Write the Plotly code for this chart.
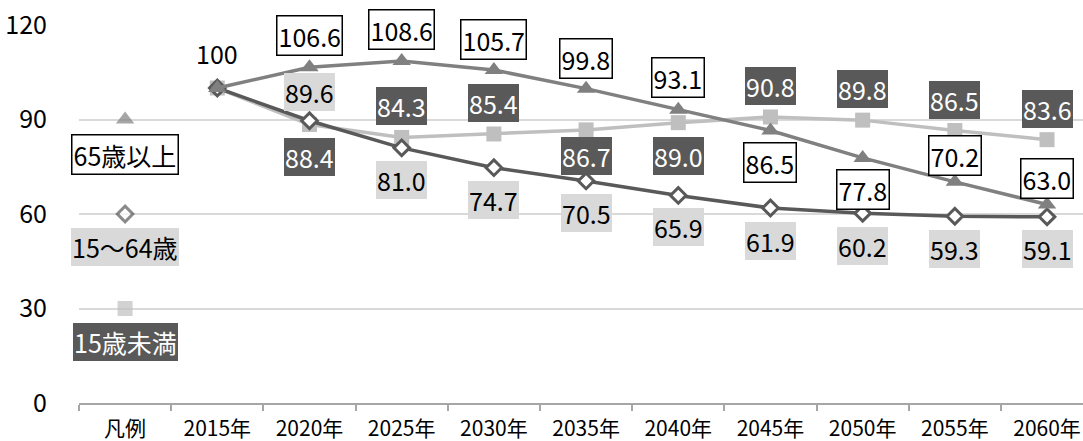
import plotly.graph_objects as go

# Categories on the x axis: the first slot holds the legend markers
categories = ["凡例", "2015年", "2020年", "2025年", "2030年", "2035年",
              "2040年", "2045年", "2050年", "2055年", "2060年"]
years = categories[1:]

# Population index (2015 = 100)
over_65 = [100, 106.6, 108.6, 105.7, 99.8, 93.1, 86.5, 77.8, 70.2, 63.0]
age_15_64 = [100, 89.6, 81.0, 74.7, 70.5, 65.9, 61.9, 60.2, 59.3, 59.1]
under_15 = [100, 88.4, 84.3, 85.4, 86.7, 89.0, 90.8, 89.8, 86.5, 83.6]

# Series names and the y level of each legend marker in the 凡例 column
series_names = ["65歳以上", "15～64歳", "15歳未満"]
legend_levels = [90, 60, 30]

yticks = [0, 30, 60, 90, 120]

# Label offsets in pixels (positive = above the point); first year uses a shared label
shift_over_65 = [None, 32, 31, 31, 30, 32, -32, -32, 26, 26]
shift_15_64 = [None, 29, -32, -32, -32, -32, -33, -33, -33, -32]
shift_under_15 = [None, -32, 31, 31, -26, -33, 31, 31, 31, 31]

FONT = "Noto Sans CJK JP, sans-serif"
FS = 25

C_65 = "#808080"
C_1564 = "#595959"
C_U15 = "#bfbfbf"
DARK_BG = "#595959"
LIGHT_BG = "#d9d9d9"

fig = go.Figure()

fig.add_trace(go.Scatter(
    x=years, y=under_15, mode="lines+markers",
    line=dict(color=C_U15, width=3.5),
    marker=dict(symbol="square", size=15, color=C_U15),
    cliponaxis=False, showlegend=False))
fig.add_trace(go.Scatter(
    x=years, y=age_15_64, mode="lines+markers",
    line=dict(color=C_1564, width=3.5),
    marker=dict(symbol="diamond", size=12, color="white",
                line=dict(color=C_1564, width=3)),
    cliponaxis=False, showlegend=False))
fig.add_trace(go.Scatter(
    x=years, y=over_65, mode="lines+markers",
    line=dict(color=C_65, width=3.5),
    marker=dict(symbol="triangle-up", size=16, color=C_65),
    cliponaxis=False, showlegend=False))

# Legend markers drawn inside the 凡例 column
fig.add_trace(go.Scatter(
    x=[categories[0]] * 3, y=legend_levels, mode="markers",
    marker=dict(symbol=["triangle-up", "diamond", "square"],
                size=[16, 12, 15],
                color=[C_65, "white", C_U15],
                line=dict(color=[C_65, C_1564, C_U15], width=[0, 3, 0])),
    cliponaxis=False, showlegend=False))

styles = {
    "65": dict(bgcolor="white", bordercolor="black", borderwidth=1.5,
               font=dict(family=FONT, size=FS, color="black")),
    "1564": dict(bgcolor=LIGHT_BG, bordercolor=LIGHT_BG, borderwidth=0,
                 font=dict(family=FONT, size=FS, color="black")),
    "u15": dict(bgcolor=DARK_BG, bordercolor=DARK_BG, borderwidth=0,
                font=dict(family=FONT, size=FS, color="white")),
}

annotations = []


def add_labels(values, shifts, style):
    for x, v, s in zip(years, values, shifts):
        if s is None:
            continue
        annotations.append(dict(
            x=x, y=v, xref="x", yref="y", text=f"{v:.1f}", showarrow=False,
            yshift=s, borderpad=1, **styles[style]))


add_labels(over_65, shift_over_65, "65")
add_labels(age_15_64, shift_15_64, "1564")
add_labels(under_15, shift_under_15, "u15")

# Shared label for the base year
annotations.append(dict(
    x=years[0], y=over_65[0], xref="x", yref="y", text=f"{over_65[0]:g}",
    showarrow=False, yshift=35, font=dict(family=FONT, size=FS, color="black")))

# Legend texts
for name, level, style, shift in zip(series_names, legend_levels,
                                     ["65", "1564", "u15"], [-35, -33, -33]):
    annotations.append(dict(
        x=categories[0], y=level, xref="x", yref="y", text=name,
        showarrow=False, yshift=shift, borderpad=1, **styles[style]))

fig.update_layout(
    width=1083, height=441,
    margin=dict(l=79, r=0, t=25, b=38),
    paper_bgcolor="white", plot_bgcolor="white",
    font=dict(family=FONT, size=FS, color="black"),
    annotations=annotations,
    xaxis=dict(
        type="category", categoryorder="array", categoryarray=categories,
        range=[-0.5, 10.39], showgrid=False, showline=True,
        linecolor="#a6a6a6", linewidth=1.5,
        ticks="outside", tickson="boundaries", ticklen=6,
        tickcolor="#a6a6a6", tickwidth=1.5, ticklabelstandoff=6,
        tickfont=dict(family=FONT, size=21, color="black"),
        fixedrange=True),
    yaxis=dict(
        range=[0, 120], tickvals=yticks, showgrid=True,
        gridcolor="#d9d9d9", gridwidth=1.5, zeroline=False, showline=False,
        ticks="", ticklabelstandoff=31,
        tickfont=dict(family=FONT, size=FS, color="black"),
        fixedrange=True),
)

fig.write_html("out.html")
